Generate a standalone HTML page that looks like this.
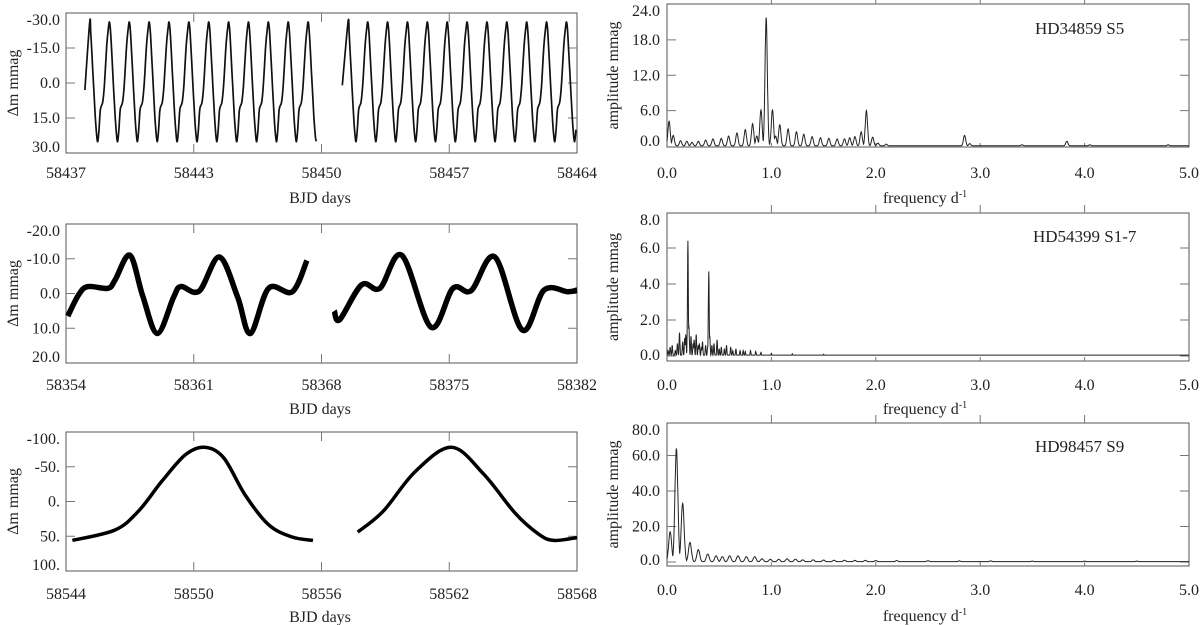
<!DOCTYPE html>
<html><head><meta charset="utf-8"><style>
body{margin:0;background:#fff;}
svg{display:block;font-family:"Liberation Serif",serif;}
text{fill:#222;}
</style></head><body>
<svg id="chart" width="1200" height="625" viewBox="0 0 1200 625" xmlns="http://www.w3.org/2000/svg"></svg>
<script>
// ---------- data ----------
const l1PeakTimes = [58438.25,58439.30,58440.35,58441.40,58442.45,58443.50,58444.55,58445.60,58446.65,58447.70,58448.75,58449.80,
                     58451.90,58452.95,58454.00,58455.05,58456.10,58457.15,58458.20,58459.25,58460.30,58461.35,58462.40,58463.45];
const l1Period = 1.05;
const l1TemplatePhase = [0,0.06,0.16,0.28,0.36,0.41,0.47,0.53,0.58,0.66,0.74,0.86,0.95,1];
const l1TemplateMag   = [-26,-21,-5,14,23,25,20,12,10,8,1,-16,-24,-26];
const l1SegStart = [[58438.0,3],[58451.6,1]];
const l1SegEnd = [58450.25,58464.0];
const l1XTicks = ["58437","58443","58450","58457","58464"];
const l1YTicks = [-30,-15,0,15,30];

const l2Seg1T = [58354.1,58354.7,58355.2,58356.3,58356.7,58357.5,58358.2,58359.0,58359.9,58360.3,58361.3,58362.4,58363.4,58364.1,58365.1,58366.4,58367.2];
const l2Seg1M = [6.5,0.3,-2,-1.5,-4,-11,0.6,11.5,1,-2,-0.7,-10.5,1,11.5,-1.5,-0.5,-9.5];
const l2Seg2T = [58368.7,58369.0,58370.2,58371.2,58372.4,58374.0,58375.2,58376.2,58377.5,58379.0,58380.2,58381.5,58382.0];
const l2Seg2M = [5,7.5,-2.5,-1.5,-11,9.7,-1.5,-0.8,-10.5,10.5,-1,-0.5,-1];
const l2XTicks = ["58354","58361","58368","58375","58382"];
const l2YTicks = [-20,-10,0,10,20];

const l3Seg1T = [58544.3,58546.3,58547.4,58548.5,58549.6,58550.5,58551.4,58552.4,58553.5,58554.6,58555.6];
const l3Seg1M = [56,41,14,-29,-67,-78,-63,-10,33,51,56];
const l3Seg2T = [58557.7,58558.9,58560.4,58562.1,58563.6,58565.1,58566.2,58566.9,58568.0];
const l3Seg2M = [44,14,-43,-78,-40,17,47,56,52];
const l3XTicks = ["58544","58550","58556","58562","58568"];
const l3YTicks = [-100,-50,0,50,100];
const l3YLabels = ["-100.","-50.","0.","50.","100."];

const r1Freq = [0.02,0.06,0.13,0.19,0.24,0.30,0.37,0.44,0.52,0.59,0.67,0.75,0.82,0.86,0.90,0.95,1.01,1.04,1.08,1.16,1.24,1.31,1.39,1.47,1.55,1.63,1.70,1.75,1.80,1.86,1.91,1.97,2.02,2.10,2.85,2.90,3.40,3.83,4.05,4.80];
const r1Amp  = [4.2,1.8,0.9,0.8,0.6,0.8,1.0,1.2,1.3,1.7,2.2,2.8,3.8,1.7,6.1,21.8,6.1,1.7,3.6,2.9,2.4,2.0,1.6,1.4,1.3,1.2,1.2,1.4,1.6,2.4,6.0,1.5,0.5,0.3,1.8,0.4,0.2,0.8,0.2,0.2];
const r2Freq = [0.01,0.03,0.05,0.08,0.10,0.12,0.15,0.17,0.18,0.20,0.21,0.23,0.25,0.26,0.28,0.30,0.31,0.33,0.34,0.37,0.39,0.40,0.41,0.43,0.45,0.48,0.50,0.52,0.55,0.57,0.61,0.63,0.66,0.70,0.73,0.75,0.80,0.85,0.90,1.00,1.20,1.50];
const r2Amp  = [0.3,0.5,0.6,0.3,0.7,1.3,0.8,1.0,1.2,6.4,1.7,1.1,0.7,0.9,1.2,0.6,0.7,0.5,0.8,0.6,0.5,4.7,1.1,0.6,0.7,0.9,0.4,0.5,0.4,0.6,0.5,0.3,0.4,0.3,0.3,0.25,0.3,0.25,0.2,0.15,0.12,0.1];
const r3Freq = [0.03,0.09,0.15,0.22,0.30,0.39,0.47,0.53,0.60,0.68,0.76,0.84,0.91,0.99,1.07,1.15,1.23,1.30,1.40,1.50,1.60,1.70,1.80,1.90,2.00,2.20,2.50,2.80,3.10,3.50,4.00,4.50];
const r3Amp  = [17,64,33,11,7,4.5,3.5,3,3.5,3.5,3,3,1.8,1.5,1.5,1.8,1.6,1.2,1.2,1.1,1.0,1.0,0.9,0.9,0.8,0.8,0.7,0.6,0.6,0.5,0.5,0.5];
const rXTicks = ["0.0","1.0","2.0","3.0","4.0","5.0"];
const r1YTicks = [0,6,12,18,24];
const r2YTicks = [0,2,4,6,8];
const r3YTicks = [0,20,40,60,80];

// ---------- helpers ----------
const NS="http://www.w3.org/2000/svg";
const svg=document.getElementById('chart');
function mk(tag,attrs,parent){const e=document.createElementNS(NS,tag);for(const k in attrs)e.setAttribute(k,attrs[k]);(parent||svg).appendChild(e);return e;}
function lin(d0,d1,r0,r1){return v=>r0+(v-d0)*(r1-r0)/(d1-d0);}
function smoothPath(pts){
  if(pts.length<2)return '';
  let d='M'+pts[0][0].toFixed(1)+','+pts[0][1].toFixed(1);
  for(let i=0;i<pts.length-1;i++){
    const p0=pts[Math.max(0,i-1)],p1=pts[i],p2=pts[i+1],p3=pts[Math.min(pts.length-1,i+2)];
    const c1=[p1[0]+(p2[0]-p0[0])/6,p1[1]+(p2[1]-p0[1])/6];
    const c2=[p2[0]-(p3[0]-p1[0])/6,p2[1]-(p3[1]-p1[1])/6];
    d+='C'+c1[0].toFixed(1)+','+c1[1].toFixed(1)+' '+c2[0].toFixed(1)+','+c2[1].toFixed(1)+' '+p2[0].toFixed(1)+','+p2[1].toFixed(1);
  }
  return d;
}
function panel(name,x0,x1,y0,y1){
  const g=mk('g',{});
  
  
  const r=mk('rect',{x:x0,y:y0,width:x1-x0,height:y1-y0,fill:'none',stroke:'#555','stroke-width':1},g);
  
  
  return g;
}
function yAxis(g,ticks,labels,ys,x0,x1,y0,y1,lx){
  ticks.forEach((v,i)=>{
    const y=ys(v);
    if(y>y0+1&&y<y1-1){
      mk('line',{x1:x0,x2:x0+9,y1:y,y2:y,stroke:'#777','stroke-width':1},g);
      mk('line',{x1:x1-9,x2:x1,y1:y,y2:y,stroke:'#777','stroke-width':1},g);
    }
    const ly=Math.min(Math.max(y,y0+7),y1-6);
    const t=mk('text',{x:lx,y:ly+5,'text-anchor':'end','font-size':16},g);
    t.textContent=labels[i];
    
    
  });
}
function xAxis(g,labels,x0,x1,y0,y1,ly,outTop){
  labels.forEach((lab,i)=>{
    const x=x0+(x1-x0)*i/(labels.length-1);
    if(i>0&&i<labels.length-1){
      if(outTop){mk('line',{x1:x,x2:x,y1:y0-8,y2:y0,stroke:'#777','stroke-width':1},g);
                 mk('line',{x1:x,x2:x,y1:y1-4,y2:y1,stroke:'#777','stroke-width':1},g);}
      else{mk('line',{x1:x,x2:x,y1:y0,y2:y0+9,stroke:'#777','stroke-width':1},g);
           mk('line',{x1:x,x2:x,y1:y1-9,y2:y1,stroke:'#777','stroke-width':1},g);}
    }
    const t=mk('text',{x:x,y:ly,'text-anchor':'middle','font-size':16},g);
    t.textContent=lab;
    
    
  });
}
function titles(g,xt,xx,xy,yt,yx,yy,sup){
  const t=mk('text',{x:xx,y:xy,'text-anchor':'middle','font-size':16},g);
  if(sup){t.textContent=xt;const s=mk('tspan',{dy:-6,'font-size':10},t);s.textContent='-1';}
  else t.textContent=xt;
  
  
  const u=mk('text',{x:0,y:0,'text-anchor':'middle','font-size':16,transform:`translate(${yx},${yy}) rotate(-90)`},g);
  u.textContent=yt;
  
  
}
function label(g,txt,x,y){
  const t=mk('text',{x:x,y:y,'font-size':17},g);
  t.textContent=txt;
  
  
}

const LX0=66,LX1=577;
(function(){
  const y0=13,y1=153;
  const g=panel('light-curve-hd34859',LX0,LX1,y0,y1);
  const xs=lin(58437,58464,LX0,LX1), ys=lin(-30,30,y0,y1);
  yAxis(g,l1YTicks,["-30.0","-15.0","0.0","15.0","30.0"],ys,LX0,LX1,y0,y1,60);
  xAxis(g,l1XTicks,LX0,LX1,y0,y1,178,false);
  titles(g,'BJD days',320,203,'Δm mmag',18,(y0+y1)/2,false);
  [[0,12],[12,24]].forEach((rg,s)=>{
    const pts=[[xs(l1SegStart[s][0]),ys(l1SegStart[s][1])]];
    for(let k=rg[0];k<rg[1];k++){
      const tp=l1PeakTimes[k];
      for(let j=0;j<l1TemplatePhase.length;j++){
        if(j===l1TemplatePhase.length-1&&k<rg[1]-1)continue;
        const t=tp+l1TemplatePhase[j]*l1Period;
        if(t>l1SegEnd[s])break;
        pts.push([xs(t),ys(l1TemplateMag[j])]);
      }
    }
    const p=mk('path',{d:smoothPath(pts),fill:'none',stroke:'#111','stroke-width':1.7},g);
    
    
  });
})();
(function(){
  const y0=224,y1=363;
  const g=panel('light-curve-hd54399',LX0,LX1,y0,y1);
  const xs=lin(58354,58382,LX0,LX1), ys=lin(-20,20,y0,y1);
  yAxis(g,l2YTicks,["-20.0","-10.0","0.0","10.0","20.0"],ys,LX0,LX1,y0,y1,60);
  xAxis(g,l2XTicks,LX0,LX1,y0,y1,390,false);
  titles(g,'BJD days',320,414,'Δm mmag',18,(y0+y1)/2,false);
  [[l2Seg1T,l2Seg1M],[l2Seg2T,l2Seg2M]].forEach(([T,M])=>{
    const pts=T.map((t,i)=>[xs(t),ys(M[i])]);
    const p=mk('path',{d:smoothPath(pts),fill:'none',stroke:'#000','stroke-width':5.5,'stroke-linejoin':'round'},g);
    
    
  });
})();
(function(){
  const y0=432,y1=571;
  const g=panel('light-curve-hd98457',LX0,LX1,y0,y1);
  const xs=lin(58544,58568,LX0,LX1), ys=lin(-100,100,y0,y1);
  yAxis(g,l3YTicks,l3YLabels,ys,LX0,LX1,y0,y1,60);
  xAxis(g,l3XTicks,LX0,LX1,y0,y1,599,false);
  titles(g,'BJD days',320,622,'Δm mmag',18,(y0+y1)/2,false);
  [[l3Seg1T,l3Seg1M],[l3Seg2T,l3Seg2M]].forEach(([T,M])=>{
    const pts=T.map((t,i)=>[xs(t),ys(M[i])]);
    const p=mk('path',{d:smoothPath(pts),fill:'none',stroke:'#000','stroke-width':3.5},g);
    
    
  });
})();

const RX0=667,RX1=1189;
function periodogram(g,F,A,sigma,floor,xs,ys){
  let d='';
  for(let f=0;f<=5.0001;f+=0.002){
    let a=floor;
    for(let i=0;i<F.length;i++){const v=A[i]*Math.exp(-((f-F[i])**2)/(2*sigma*sigma));if(v>a)a=v;}
    d+=(d?'L':'M')+xs(f).toFixed(1)+','+ys(a).toFixed(1);
  }
  const p=mk('path',{d:d,fill:'none',stroke:'#222','stroke-width':1},g);
  
  
}
(function(){
  const y0=4,y1=147;
  const g=panel('periodogram-hd34859',RX0,RX1,y0,y1);
  const xs=lin(0,5,RX0,RX1), ys=lin(0,24,146,4.5);
  yAxis(g,r1YTicks,["0.0","6.0","12.0","18.0","24.0"],ys,RX0,RX1,y0,y1,660);
  xAxis(g,rXTicks,RX0,RX1,y0,y1,178,true);
  titles(g,'frequency d',925,203,'amplitude mmag',618,(y0+y1)/2,true);
  periodogram(g,r1Freq,r1Amp,0.011,0.05,xs,ys);
  label(g,'HD34859 S5',1035,34);
})();
(function(){
  const y0=213,y1=361;
  const g=panel('periodogram-hd54399',RX0,RX1,y0,y1);
  const xs=lin(0,5,RX0,RX1), ys=lin(0,8,356,212);
  yAxis(g,r2YTicks,["0.0","2.0","4.0","6.0","8.0"],ys,RX0,RX1,y0,y1,660);
  xAxis(g,rXTicks,RX0,RX1,y0,y1,390,true);
  titles(g,'frequency d',925,414,'amplitude mmag',618,(y0+y1)/2,true);
  periodogram(g,r2Freq,r2Amp,0.004,0.05,xs,ys);
  label(g,'HD54399 S1-7',1033,242);
})();
(function(){
  const y0=423,y1=566;
  const g=panel('periodogram-hd98457',RX0,RX1,y0,y1);
  const xs=lin(0,5,RX0,RX1), ys=lin(0,80,562,420);
  yAxis(g,r3YTicks,["0.0","20.0","40.0","60.0","80.0"],ys,RX0,RX1,y0,y1,660);
  xAxis(g,rXTicks,RX0,RX1,y0,y1,595,true);
  titles(g,'frequency d',925,621,'amplitude mmag',618,(y0+y1)/2,true);
  periodogram(g,r3Freq,r3Amp,0.014,0.2,xs,ys);
  label(g,'HD98457 S9',1035,452);
})();
</script>
</body></html>
